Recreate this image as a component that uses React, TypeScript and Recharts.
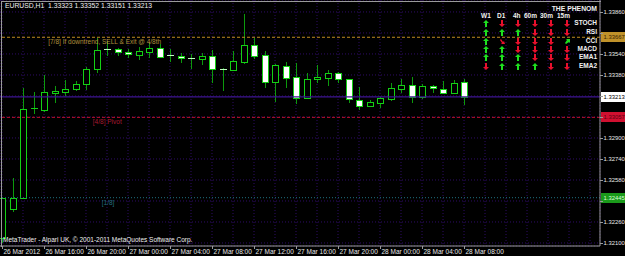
import React from "react";
import { ComposedChart, Bar, XAxis, YAxis, CartesianGrid, ReferenceLine, ReferenceDot } from "recharts";

// ---- data ----
const barIndex = [0,1,2,3,4,5,6,7,8,9,10,11,12,13,14,15,16,17,18,19,20,21,22,23,24,25,26,27,28,29,30,31,32,33,34,35,36,37,38,39,40,41,42,43,44];
const opens = [1.32138,1.32359,1.32443,1.33121,1.33113,1.33243,1.33250,1.33273,1.33311,1.33426,1.33578,1.33578,1.33555,1.33532,1.33555,1.33586,1.33532,1.33525,1.33510,1.33502,1.33525,1.33426,1.33418,1.33479,1.33609,1.33532,1.33327,1.33449,1.33365,1.33205,1.33349,1.33357,1.33395,1.33349,1.33189,1.33144,1.33167,1.33197,1.33273,1.33304,1.33212,1.33296,1.33273,1.33243,1.33323];
const highs = [1.32443,1.32595,1.33281,1.33250,1.33380,1.33296,1.33342,1.33334,1.33441,1.33662,1.33639,1.33586,1.33578,1.33593,1.33624,1.33616,1.33578,1.33548,1.33540,1.33548,1.33570,1.33433,1.33563,1.33845,1.33662,1.33563,1.33460,1.33479,1.33471,1.33395,1.33456,1.33418,1.33403,1.33352,1.33288,1.33189,1.33212,1.33319,1.33349,1.33365,1.33311,1.33300,1.33334,1.33342,1.33352];
const lows = [1.32100,1.32336,1.32440,1.33083,1.33098,1.33167,1.33220,1.33258,1.33266,1.33395,1.33525,1.33525,1.33510,1.33494,1.33510,1.33510,1.33479,1.33471,1.33426,1.33456,1.33319,1.33258,1.33415,1.33464,1.33502,1.33281,1.33174,1.33281,1.33159,1.33197,1.33319,1.33296,1.33319,1.33167,1.33113,1.33140,1.33128,1.33182,1.33243,1.33167,1.33197,1.33243,1.33240,1.33240,1.33151];
const closes = [1.32443,1.32443,1.33121,1.33128,1.33250,1.33258,1.33273,1.33311,1.33426,1.33570,1.33574,1.33555,1.33540,1.33563,1.33586,1.33517,1.33528,1.33510,1.33506,1.33525,1.33426,1.33422,1.33487,1.33609,1.33525,1.33327,1.33456,1.33357,1.33205,1.33349,1.33365,1.33395,1.33349,1.33197,1.33144,1.33174,1.33205,1.33281,1.33304,1.33212,1.33296,1.33281,1.33243,1.33319,1.33213];

const timeTickIdx = [0,4,8,12,16,20,24,28,32,36,40,44];
const timeLabels = ["26 Mar 2012","26 Mar 16:00","26 Mar 20:00","27 Mar 00:00","27 Mar 04:00","27 Mar 08:00","27 Mar 12:00","27 Mar 16:00","27 Mar 20:00","28 Mar 00:00","28 Mar 04:00","28 Mar 08:00"];
const gridIdx = [0,2,4,6,8,10,12,14,16,18,20,22,24,26,28,30,32,34,36,38,40,42,44,46,48,50,52,54,56];
const priceTicks = [1.321,1.3226,1.3242,1.3258,1.3274,1.329,1.3306,1.3322,1.3338,1.3354,1.337,1.3386];
const hiddenTicks = [1.3242,1.3306,1.3322,1.337];

const level78 = 1.33667;
const level48 = 1.33057;
const level18 = 1.32445;
const bidPrice = 1.33213;

const titleText = "EURUSD,H1  1.33323 1.33352 1.33151 1.33213";
const footerText = "MetaTrader - Alpari UK, \u00a9 2001-2011 MetaQuotes Software Corp.";

const signalCols = ["W1","D1","4h","60m","30m","15m"];
const signalRows = ["STOCH","RSI","CCI","MACD","EMA1","EMA2"];
const sigStoch = ["u","d","d","d","d","d"];
const sigRsi = ["u","u","u","d","d","d"];
const sigCci = ["u","se","d","d","d","ne"];
const sigMacd = ["u","u","d","d","d","d"];
const sigEma1 = ["u","u","u","d","d","d"];
const sigEma2 = ["d","u","u","u","d","d"];
const signalTable = [sigStoch, sigRsi, sigCci, sigMacd, sigEma1, sigEma2];

const data = barIndex.map((i, k) => ({ i, open: opens[k], high: highs[k], low: lows[k], close: closes[k] }));

// ---- styling ----
const FONT = "'Liberation Sans', Arial, sans-serif";
const OUT = "#14d014";
const WICK = "#0c9a0c";
const GRID = "#2e0c66";
const AXIS = "#9a9a9a";
const colX = [486, 502, 518, 535, 551, 567];
const headX = [481, 497, 513, 524, 540, 557];
const rowY = [23, 32, 41, 49, 57, 66];

const Candle = (props: any) => {
  const { x, y, width, height, payload } = props;
  if (x == null || y == null) return null;
  const { open, close, high, low } = payload;
  const span = high - low;
  const k = span > 0 ? height / span : 0;
  const py = (p: number) => y + (high - p) * k;
  const cx = Math.round(x + width / 2) + 0.5;
  const bull = close >= open;
  const top = Math.round(py(Math.max(open, close)));
  const bot = Math.round(py(Math.min(open, close)));
  const half = 3;
  return (
    <g>
      <line x1={cx} x2={cx} y1={Math.round(y)} y2={Math.round(y + height)} stroke={WICK} strokeWidth={1} />
      {bot - top < 2 ? (
        <line x1={cx - half - 0.5} x2={cx + half + 0.5} y1={top + 0.5} y2={top + 0.5} stroke={bull ? OUT : "#bfffbf"} strokeWidth={1} />
      ) : (
        <rect x={cx - half} y={top + 0.5} width={half * 2} height={bot - top} fill={bull ? "#000" : "#fff"} stroke={OUT} strokeWidth={1} />
      )}
    </g>
  );
};

const XTick = (props: any) => {
  const { x, y, payload } = props;
  const pos = timeTickIdx.indexOf(payload.value);
  if (pos < 0) return null;
  const xx = Math.round(x) + 0.5;
  return (
    <g>
      <line x1={xx} x2={xx} y1={y} y2={y + 3} stroke={AXIS} />
      <text x={xx + 1} y={y + 8} fill="#e8e8e8" fontSize={6.5} fontFamily={FONT}>{timeLabels[pos]}</text>
    </g>
  );
};

const YTick = (props: any) => {
  const { x, y, payload } = props;
  const yy = Math.round(y) + 0.5;
  const hide = hiddenTicks.some((t) => Math.abs(t - payload.value) < 1e-7);
  return (
    <g>
      <line x1={x} x2={x + 3} y1={yy} y2={yy} stroke={AXIS} />
      {!hide && (
        <text x={x + 3.5} y={y + 2.2} fill="#e8e8e8" fontSize={5.9} fontFamily={FONT}>{payload.value.toFixed(5)}</text>
      )}
    </g>
  );
};

const priceBox = (bg: string, fg: string, value: number) => (props: any) => {
  const vb = props.viewBox;
  if (!vb) return null;
  const bx = vb.x + vb.width + 1;
  const by = Math.round(vb.y);
  return (
    <g>
      <rect x={bx} y={by - 5} width={26} height={10} fill={bg} />
      <text x={bx + 2.5} y={by + 2.2} fill={fg} fontSize={5.9} fontFamily={FONT}>{value.toFixed(5)}</text>
    </g>
  );
};

const textLabel = (text: string, color: string, dy: number) => (props: any) => {
  const vb = props.viewBox;
  if (!vb) return null;
  const cx = vb.x + (vb.width || 0) / 2;
  const cy = vb.y + (vb.height || 0) / 2;
  return (
    <text x={cx} y={cy + dy} fill={color} fontSize={6.5} fontFamily={FONT}>{text}</text>
  );
};

const Arrow = ({ kind }: { kind: string }) => {
  const up = kind === "u" || kind === "ne";
  const color = up ? "#1ee01e" : "#e8102c";
  let pts = "";
  if (kind === "u") pts = "3,0 6,3 4,3 4,7 2,7 2,3 0,3";
  else if (kind === "d") pts = "3,7 6,4 4,4 4,0 2,0 2,4 0,4";
  else if (kind === "ne") pts = "6,1 6,5 5,4 2,6 1,5 3,2 2,1";
  else pts = "6,6 2,6 3,5 1,2 2,1 4,4 5,3";
  return (
    <svg width={6} height={7} style={{ display: "block" }}>
      <polygon points={pts} fill={color} />
    </svg>
  );
};

export default function App() {
  return (
    <div style={{ position: "absolute", left: 0, top: 0, width: 625, height: 256, background: "#000", overflow: "hidden" }}>
      <ComposedChart width={625} height={256} data={data} margin={{ top: 0, right: 0, bottom: 0, left: 0 }}>
        <CartesianGrid stroke={GRID} strokeDasharray="1 2" />
        <XAxis
          dataKey="i"
          type="number"
          domain={[-0.19, 56.95]}
          allowDataOverflow
          ticks={gridIdx}
          interval={0}
          height={10}
          tickSize={0}
          tickMargin={0}
          axisLine={{ stroke: AXIS }}
          tickLine={false}
          tick={<XTick />}
        />
        <YAxis
          orientation="right"
          type="number"
          domain={[1.32077, 1.33951]}
          allowDataOverflow
          ticks={priceTicks}
          interval={0}
          width={25}
          tickSize={0}
          tickMargin={0}
          axisLine={{ stroke: AXIS }}
          tickLine={false}
          tick={<YTick />}
        />
        <ReferenceLine y={level18} stroke="#1f6f7f" strokeDasharray="1 2" label={priceBox("#1a9a1a", "#d8ffd8", level18)} />
        <ReferenceLine y={level48} stroke="#c0102c" strokeDasharray="3 2" label={priceBox("#d01030", "#5a0010", level48)} />
        <ReferenceLine y={bidPrice} stroke="#3c1490" strokeWidth={1.2} label={priceBox("#ffffff", "#000000", bidPrice)} />
        <ReferenceLine y={level78} stroke="#c08a20" strokeDasharray="3 2" label={priceBox("#c0922a", "#3a2400", level78)} />
        <ReferenceDot x={4.4} y={level78} r={0} fill="none" stroke="none" label={textLabel("[7/8] If downtrend, SELL & Exit @ 4/8th", "#b0903c", 7)} />
        <ReferenceDot x={8.65} y={level48} r={0} fill="none" stroke="none" label={textLabel("[4/8] Pivot", "#a81a32", 7)} />
        <ReferenceDot x={9.5} y={level18} r={0} fill="none" stroke="none" label={textLabel("[1/8]", "#226e7e", 7)} />
        <Bar dataKey={(d: any) => [d.low, d.high]} barSize={7} shape={<Candle />} isAnimationActive={false} />
      </ComposedChart>

      {/* frame */}
      <div style={{ position: "absolute", left: 1, top: 1, width: 599, height: 245, borderLeft: `1px solid ${AXIS}`, borderTop: `1px solid ${AXIS}`, pointerEvents: "none" }} />

      <div style={{ position: "absolute", left: 5, top: 2, color: "#f0f0f0", fontFamily: FONT, fontSize: 6.8, whiteSpace: "pre", lineHeight: "8px" }}>{titleText}</div>
      <div style={{ position: "absolute", left: 3, top: 236, color: "#f0f0f0", fontFamily: FONT, fontSize: 6.5, whiteSpace: "pre", lineHeight: "8px" }}>{footerText}</div>

      {/* indicator panel */}
      <div style={{ position: "absolute", right: 28, top: 5, color: "#f0f0f0", fontFamily: FONT, fontSize: 6.8, fontWeight: "bold", lineHeight: "8px", whiteSpace: "pre" }}>THE PHENOM</div>
      {signalCols.map((c, j) => (
        <div key={c} style={{ position: "absolute", left: headX[j], top: 12, color: "#f0f0f0", fontFamily: FONT, fontSize: 6.5, fontWeight: "bold", lineHeight: "8px", whiteSpace: "pre" }}>{c}</div>
      ))}
      {signalRows.map((r, ri) => (
        <React.Fragment key={r}>
          <div style={{ position: "absolute", right: 28, top: rowY[ri] - 4, color: "#f0f0f0", fontFamily: FONT, fontSize: 6.5, fontWeight: "bold", lineHeight: "8px", whiteSpace: "pre" }}>{r}</div>
          {signalTable[ri].map((s, j) => (
            <div key={j} style={{ position: "absolute", left: colX[j] - 3, top: rowY[ri] - 3 }}>
              <Arrow kind={s} />
            </div>
          ))}
        </React.Fragment>
      ))}
    </div>
  );
}
